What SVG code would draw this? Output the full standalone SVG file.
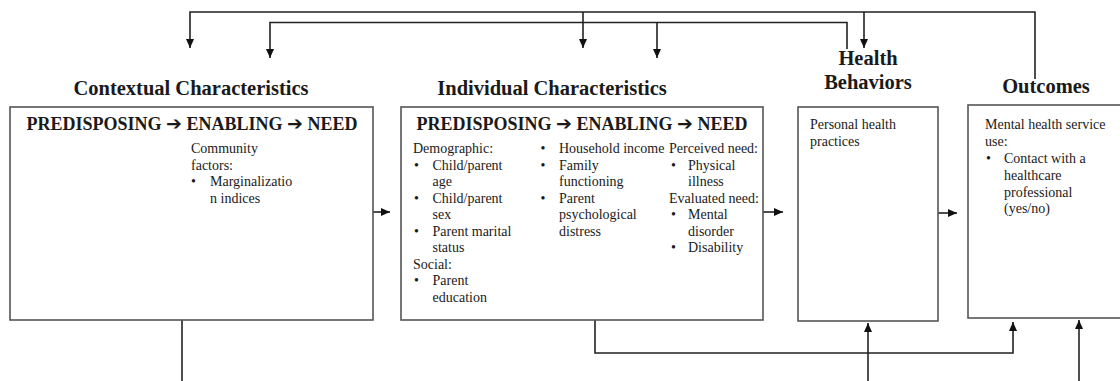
<svg xmlns="http://www.w3.org/2000/svg" width="1120" height="381" viewBox="0 0 1120 381">
<style>
  text { font-family: "Liberation Serif", "Times New Roman", serif; fill: #1a1a1a; }
  .title { font-size: 20.5px; font-weight: bold; text-anchor: middle; }
  .head { font-size: 18px; font-weight: bold; text-anchor: middle; }
  .arr { font-family: "DejaVu Sans", sans-serif; font-size: 19px; font-weight: bold; }
  .body { font-size: 14px; }
  .box { fill: #ffffff; stroke: #555555; stroke-width: 1.6; }
  .conn { fill: none; stroke: #222222; stroke-width: 1.6; }
</style>
<defs>
  <marker id="ah" markerUnits="userSpaceOnUse" markerWidth="10" markerHeight="9" refX="9" refY="4" orient="auto">
    <path d="M0,0 L9,4 L0,8 z" fill="#111111"/>
  </marker>
</defs>
<rect width="1120" height="381" fill="#ffffff"/>

<g id="connectors">
  <path class="conn" d="M1035,79 V12 H190 V48" marker-end="url(#ah)"/>
  <path class="conn" d="M583,12 V48" marker-end="url(#ah)"/>
  <path class="conn" d="M864,12 V48" marker-end="url(#ah)"/>
  <path class="conn" d="M847,49 V22.5 H270 V58" marker-end="url(#ah)"/>
  <path class="conn" d="M657,22.5 V58" marker-end="url(#ah)"/>
  <path class="conn" d="M373,212 H390" marker-end="url(#ah)"/>
  <path class="conn" d="M763,212 H783" marker-end="url(#ah)"/>
  <path class="conn" d="M938,213 H957" marker-end="url(#ah)"/>
  <path class="conn" d="M182,320 V381"/>
  <path class="conn" d="M595,320 V353 H1013 V322" marker-end="url(#ah)"/>
  <path class="conn" d="M868,381 V323" marker-end="url(#ah)"/>
  <path class="conn" d="M1079,381 V320" marker-end="url(#ah)"/>
</g>

<g id="contextual">
  <text class="title" x="191" y="95">Contextual Characteristics</text>
  <rect class="box" x="10" y="107" width="363" height="213"/>
  <text class="head" x="192" y="130">PREDISPOSING <tspan class="arr">➔</tspan> ENABLING <tspan class="arr">➔</tspan> NEED</text>
  <text class="body" x="191" y="153">Community</text>
  <text class="body" x="191" y="169.5">factors:</text>
  <text class="body" x="191" y="186">•</text>
  <text class="body" x="210" y="186">Marginalizatio</text>
  <text class="body" x="210" y="202.5">n indices</text>
</g>

<g id="individual">
  <text class="title" x="552" y="95">Individual Characteristics</text>
  <rect class="box" x="401" y="107" width="362" height="213"/>
  <text class="head" x="582" y="130">PREDISPOSING <tspan class="arr">➔</tspan> ENABLING <tspan class="arr">➔</tspan> NEED</text>
  <text class="body" x="413" y="153">Demographic:</text>
  <text class="body" x="414" y="169.5">•</text>
  <text class="body" x="432.5" y="169.5">Child/parent</text>
  <text class="body" x="432.5" y="186">age</text>
  <text class="body" x="414" y="202.5">•</text>
  <text class="body" x="432.5" y="202.5">Child/parent</text>
  <text class="body" x="432.5" y="219">sex</text>
  <text class="body" x="414" y="235.5">•</text>
  <text class="body" x="432.5" y="235.5">Parent marital</text>
  <text class="body" x="432.5" y="252">status</text>
  <text class="body" x="413" y="268.5">Social:</text>
  <text class="body" x="414" y="285">•</text>
  <text class="body" x="432.5" y="285">Parent</text>
  <text class="body" x="432.5" y="301.5">education</text>

  <text class="body" x="540.5" y="153">•</text>
  <text class="body" x="559" y="153">Household income</text>
  <text class="body" x="540.5" y="169.5">•</text>
  <text class="body" x="559" y="169.5">Family</text>
  <text class="body" x="559" y="186">functioning</text>
  <text class="body" x="540.5" y="202.5">•</text>
  <text class="body" x="559" y="202.5">Parent</text>
  <text class="body" x="559" y="219">psychological</text>
  <text class="body" x="559" y="235.5">distress</text>

  <text class="body" x="669" y="153">Perceived need:</text>
  <text class="body" x="671" y="169.5">•</text>
  <text class="body" x="688" y="169.5">Physical</text>
  <text class="body" x="688" y="186">illness</text>
  <text class="body" x="669" y="202.5">Evaluated need:</text>
  <text class="body" x="671" y="219">•</text>
  <text class="body" x="688" y="219">Mental</text>
  <text class="body" x="688" y="235.5">disorder</text>
  <text class="body" x="671" y="252">•</text>
  <text class="body" x="688" y="252">Disability</text>
</g>

<g id="health-behaviors">
  <text class="title" x="868" y="65">Health</text>
  <text class="title" x="868" y="89">Behaviors</text>
  <rect class="box" x="798" y="107" width="140" height="214"/>
  <text class="body" x="810" y="129">Personal health</text>
  <text class="body" x="810" y="146">practices</text>
</g>

<g id="outcomes">
  <text class="title" x="1046" y="93">Outcomes</text>
  <rect class="box" x="968" y="105" width="160" height="213"/>
  <text class="body" x="985" y="129">Mental health service</text>
  <text class="body" x="985" y="146">use:</text>
  <text class="body" x="986" y="163">•</text>
  <text class="body" x="1004" y="163">Contact with a</text>
  <text class="body" x="1004" y="180">healthcare</text>
  <text class="body" x="1004" y="196.5">professional</text>
  <text class="body" x="1004" y="213">(yes/no)</text>
</g>
</svg>
